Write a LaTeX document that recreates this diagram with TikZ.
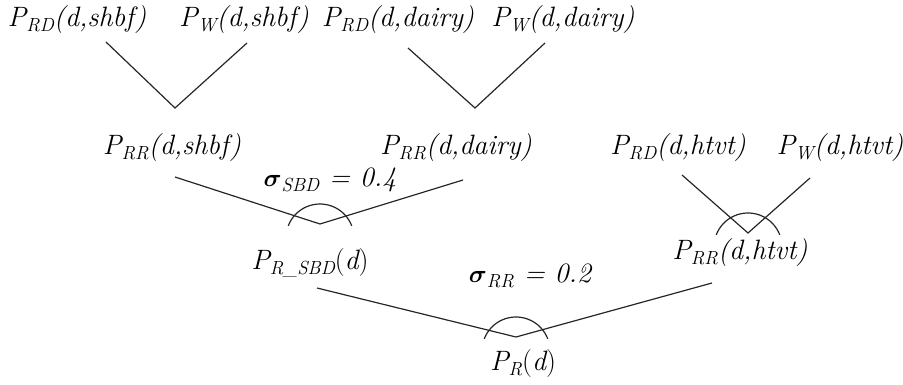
\documentclass[tikz,border=0pt]{standalone}
\usepackage{amsmath}
\usepackage{bm}
\usetikzlibrary{calc}

\newcommand{\lo}[1]{\raisebox{-0.4ex}{\fontsize{19}{19}\selectfont #1}}
\newcommand{\corner}[1]{\draw[wire] ($(#1)+(0,14)$) ++(201:34) arc[start angle=201, end angle=339, radius=34];}

\tikzset{
  lbl/.style={font=\fontsize{28}{28}\selectfont\itshape, inner sep=0pt},
  wire/.style={line width=1.2pt, black!85}
}

\begin{document}
\begin{tikzpicture}[x=1pt,y=-1pt]
\useasboundingbox (0,0) rectangle (903,385);

% top row
\node[lbl] (rdshbf) at (77,20) {P\lo{RD}(d,shbf)};
\node[lbl] (wshbf) at (244,20) {P\lo{W}(d,shbf)};
\node[lbl] (rddairy) at (398,20) {P\lo{RD}(d,dairy)};
\node[lbl] (wdairy) at (563,20) {P\lo{W}(d,dairy)};

% second row
\node[lbl] (rrshbf) at (172,148) {P\lo{RR}(d,shbf)};
\node[lbl] (rrdairy) at (456,148) {P\lo{RR}(d,dairy)};
\node[lbl] (rdhtvt) at (678,148) {P\lo{RD}(d,htvt)};
\node[lbl] (whtvt) at (840,148) {P\lo{W}(d,htvt)};

% lower rows
\node[lbl] (sigsbd) at (330,180) {$\bm{\sigma}$\lo{SBD} = 0.4};
\node[lbl] (rsbd) at (310,263) {P\lo{R\_SBD}\upshape(\itshape d\upshape)};
\node[lbl] (rrhtvt) at (740,253) {P\lo{RR}(d,htvt)};
\node[lbl] (sigrr) at (530,276) {$\bm{\sigma}$\lo{RR} = 0.2};
\node[lbl] (rfinal) at (523,364) {P\lo{R}\upshape(\itshape d\upshape)};

% ends and corners
\coordinate (a1) at (106,42);
\coordinate (v1) at (175,108);
\coordinate (b1) at (247,43);
\coordinate (a2) at (408,48);
\coordinate (v2) at (475,108);
\coordinate (b2) at (545,43);
\coordinate (a3) at (175,177);
\coordinate (v3) at (320,224);
\coordinate (b3) at (463,180);
\coordinate (a5) at (682,175);
\coordinate (v5) at (748,233);
\coordinate (b5) at (810,178);
\coordinate (a4) at (317,288);
\coordinate (v4) at (516,337);
\coordinate (b4) at (712,283);

\draw[wire] (a1) -- (v1) -- (b1);
\draw[wire] (a2) -- (v2) -- (b2);
\draw[wire] (a3) -- (v3) -- (b3);
\draw[wire] (a5) -- (v5) -- (b5);
\draw[wire] (a4) -- (v4) -- (b4);

% weight arcs
\corner{v3}
\corner{v5}
\corner{v4}

\end{tikzpicture}
\end{document}
